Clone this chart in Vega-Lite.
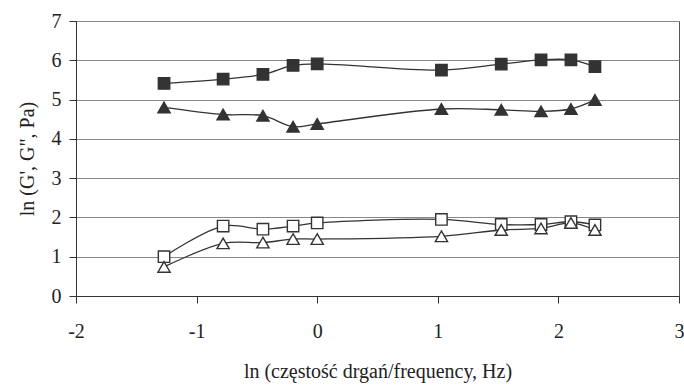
{
  "$schema": "https://vega.github.io/schema/vega-lite/v6.json",
  "width": 603,
  "height": 275,
  "autosize": {"type": "none"},
  "padding": {"left": 76, "top": 21, "right": 5, "bottom": 93},
  "background": "white",
  "config": {
    "font": "Liberation Serif",
    "view": {"stroke": "#555", "strokeWidth": 1},
    "axis": {
      "labelFont": "Liberation Serif",
      "titleFont": "Liberation Serif",
      "labelFontSize": 20,
      "titleFontSize": 20,
      "titleFontWeight": "normal",
      "labelColor": "#222",
      "titleColor": "#222",
      "domainColor": "#333",
      "tickColor": "#333",
      "tickSize": 7,
      "gridColor": "#888",
      "gridWidth": 1
    }
  },
  "data": {
    "values": [
      {"x": -1.27, "y": 5.41, "s": "G' A", "shape": "sq", "fill": "filled"},
      {"x": -0.78, "y": 5.52, "s": "G' A", "shape": "sq", "fill": "filled"},
      {"x": -0.45, "y": 5.64, "s": "G' A", "shape": "sq", "fill": "filled"},
      {"x": -0.2, "y": 5.87, "s": "G' A", "shape": "sq", "fill": "filled"},
      {"x": 0.0, "y": 5.91, "s": "G' A", "shape": "sq", "fill": "filled"},
      {"x": 1.03, "y": 5.75, "s": "G' A", "shape": "sq", "fill": "filled"},
      {"x": 1.526, "y": 5.9, "s": "G' A", "shape": "sq", "fill": "filled"},
      {"x": 1.856, "y": 6.01, "s": "G' A", "shape": "sq", "fill": "filled"},
      {"x": 2.104, "y": 6.01, "s": "G' A", "shape": "sq", "fill": "filled"},
      {"x": 2.303, "y": 5.84, "s": "G' A", "shape": "sq", "fill": "filled"},
      {"x": -1.27, "y": 4.8, "s": "G'' A", "shape": "tri", "fill": "filled"},
      {"x": -0.78, "y": 4.62, "s": "G'' A", "shape": "tri", "fill": "filled"},
      {"x": -0.45, "y": 4.59, "s": "G'' A", "shape": "tri", "fill": "filled"},
      {"x": -0.2, "y": 4.31, "s": "G'' A", "shape": "tri", "fill": "filled"},
      {"x": 0.0, "y": 4.38, "s": "G'' A", "shape": "tri", "fill": "filled"},
      {"x": 1.03, "y": 4.76, "s": "G'' A", "shape": "tri", "fill": "filled"},
      {"x": 1.526, "y": 4.74, "s": "G'' A", "shape": "tri", "fill": "filled"},
      {"x": 1.856, "y": 4.7, "s": "G'' A", "shape": "tri", "fill": "filled"},
      {"x": 2.104, "y": 4.76, "s": "G'' A", "shape": "tri", "fill": "filled"},
      {"x": 2.303, "y": 4.99, "s": "G'' A", "shape": "tri", "fill": "filled"},
      {"x": -1.27, "y": 1.0, "s": "G' B", "shape": "sq", "fill": "open"},
      {"x": -0.78, "y": 1.78, "s": "G' B", "shape": "sq", "fill": "open"},
      {"x": -0.45, "y": 1.7, "s": "G' B", "shape": "sq", "fill": "open"},
      {"x": -0.2, "y": 1.78, "s": "G' B", "shape": "sq", "fill": "open"},
      {"x": 0.0, "y": 1.86, "s": "G' B", "shape": "sq", "fill": "open"},
      {"x": 1.03, "y": 1.95, "s": "G' B", "shape": "sq", "fill": "open"},
      {"x": 1.526, "y": 1.82, "s": "G' B", "shape": "sq", "fill": "open"},
      {"x": 1.856, "y": 1.82, "s": "G' B", "shape": "sq", "fill": "open"},
      {"x": 2.104, "y": 1.89, "s": "G' B", "shape": "sq", "fill": "open"},
      {"x": 2.303, "y": 1.81, "s": "G' B", "shape": "sq", "fill": "open"},
      {"x": -1.27, "y": 0.74, "s": "G'' B", "shape": "tri", "fill": "open"},
      {"x": -0.78, "y": 1.34, "s": "G'' B", "shape": "tri", "fill": "open"},
      {"x": -0.45, "y": 1.36, "s": "G'' B", "shape": "tri", "fill": "open"},
      {"x": -0.2, "y": 1.45, "s": "G'' B", "shape": "tri", "fill": "open"},
      {"x": 0.0, "y": 1.45, "s": "G'' B", "shape": "tri", "fill": "open"},
      {"x": 1.03, "y": 1.52, "s": "G'' B", "shape": "tri", "fill": "open"},
      {"x": 1.526, "y": 1.68, "s": "G'' B", "shape": "tri", "fill": "open"},
      {"x": 1.856, "y": 1.72, "s": "G'' B", "shape": "tri", "fill": "open"},
      {"x": 2.104, "y": 1.86, "s": "G'' B", "shape": "tri", "fill": "open"},
      {"x": 2.303, "y": 1.68, "s": "G'' B", "shape": "tri", "fill": "open"}
    ]
  },
  "encoding": {
    "x": {
      "field": "x", "type": "quantitative",
      "scale": {"domain": [-2, 3], "nice": false, "zero": false},
      "axis": {"values": [-2, -1, 0, 1, 2, 3], "grid": false, "labelFlush": false, "labelBound": false, "labelOverlap": false, "labelExpr": "'' + datum.value", "title": "ln (częstość drgań/frequency, Hz)", "labelPadding": 18, "titlePadding": 20}
    },
    "y": {
      "field": "y", "type": "quantitative",
      "scale": {"domain": [0, 7], "nice": false},
      "axis": {"values": [0, 1, 2, 3, 4, 5, 6, 7], "grid": true, "title": "ln (G', G\", Pa)", "labelPadding": 8, "titlePadding": 14}
    }
  },
  "layer": [
    {
      "mark": {"type": "line", "interpolate": "catmull-rom", "color": "#333", "strokeWidth": 1.3},
      "encoding": {"detail": {"field": "s"}}
    },
    {
      "mark": {"type": "point", "stroke": "#333", "strokeWidth": 1.4, "opacity": 1},
      "encoding": {
        "shape": {"field": "shape", "type": "nominal", "scale": {"domain": ["sq", "tri"], "range": ["square", "triangle-up"]}, "legend": null},
        "fill": {"field": "fill", "type": "nominal", "scale": {"domain": ["filled", "open"], "range": ["#333", "white"]}, "legend": null},
        "size": {"field": "shape", "type": "nominal", "scale": {"domain": ["sq", "tri"], "range": [130, 150]}, "legend": null}
      }
    }
  ]
}
